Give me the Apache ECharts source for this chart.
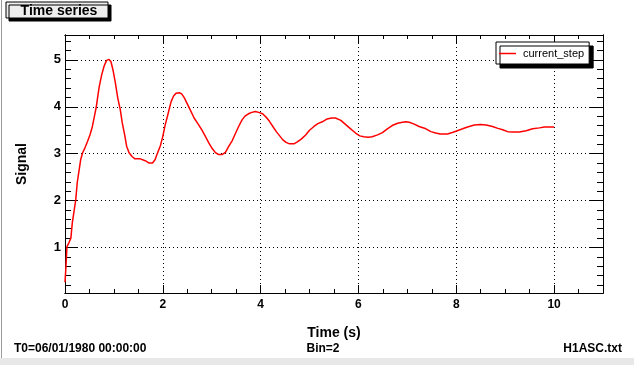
<!DOCTYPE html>
<html>
<head>
<meta charset="utf-8">
<script src="https://cdn.jsdelivr.net/npm/echarts@6/dist/echarts.min.js"></script>
<style>
  html, body { margin: 0; padding: 0; background: #fff; }
  #chart { width: 634px; height: 365px; }
</style>
</head>
<body>
<div id="chart"></div>
<script>
// values
const time = [
  0, 0.02, 0.04, 0.08, 0.12, 0.15, 0.18, 0.22, 0.25, 0.29,
  0.32, 0.36, 0.41, 0.46, 0.51, 0.56, 0.60, 0.64, 0.67, 0.70,
  0.75, 0.80, 0.85, 0.90, 0.94, 0.98, 1.03, 1.08, 1.13, 1.17,
  1.22, 1.26, 1.31, 1.37, 1.43, 1.54, 1.64, 1.72, 1.79, 1.84,
  1.89, 1.95, 2.00, 2.05, 2.10, 2.14, 2.17, 2.22, 2.27, 2.34,
  2.39, 2.44, 2.51, 2.58, 2.64, 2.73, 2.80, 2.87, 2.94, 3.01,
  3.07, 3.14, 3.21, 3.28, 3.35, 3.42, 3.48, 3.55, 3.62, 3.68,
  3.75, 3.82, 3.89, 3.96, 4.04, 4.11, 4.18, 4.25, 4.32, 4.39,
  4.45, 4.52, 4.59, 4.68, 4.75, 4.83, 4.92, 5.00, 5.09, 5.17,
  5.26, 5.36, 5.45, 5.53, 5.64, 5.74, 5.84, 5.94, 6.03, 6.11,
  6.20, 6.28, 6.39, 6.49, 6.59, 6.69, 6.80, 6.90, 6.97, 7.04,
  7.14, 7.24, 7.38, 7.48, 7.58, 7.67, 7.75, 7.82, 7.92, 8.02,
  8.13, 8.23, 8.37, 8.49, 8.61, 8.74, 8.85, 8.95, 9.05, 9.15,
  9.22, 9.29, 9.43, 9.56, 9.70, 9.80, 9.94, 10.0
];
const signal = [
  0.26, 0.6, 1.02, 1.1, 1.2, 1.53, 1.74, 2.02, 2.38, 2.66,
  2.87, 3.02, 3.13, 3.26, 3.4, 3.58, 3.79, 4.0, 4.22, 4.43,
  4.68, 4.87, 4.99, 5.01, 4.96, 4.79, 4.51, 4.18, 3.94, 3.66,
  3.4, 3.16, 3.02, 2.94, 2.89, 2.89, 2.85, 2.80, 2.80, 2.87,
  3.01, 3.17, 3.37, 3.62, 3.82, 3.99, 4.11, 4.23, 4.29, 4.30,
  4.27, 4.19, 4.04, 3.89, 3.76, 3.62, 3.50, 3.37, 3.23, 3.11,
  3.03, 2.98, 2.98, 3.03, 3.16, 3.28, 3.42, 3.58, 3.72, 3.80,
  3.85, 3.88, 3.90, 3.88, 3.85, 3.78, 3.69, 3.58, 3.47, 3.38,
  3.30, 3.24, 3.21, 3.21, 3.25, 3.31, 3.40, 3.50, 3.58, 3.64,
  3.68, 3.74, 3.76, 3.76, 3.71, 3.62, 3.53, 3.44, 3.38, 3.36,
  3.35, 3.36, 3.40, 3.45, 3.53, 3.60, 3.65, 3.67, 3.68, 3.67,
  3.63, 3.58, 3.53, 3.47, 3.44, 3.42, 3.42, 3.42, 3.45, 3.49,
  3.53, 3.57, 3.61, 3.62, 3.61, 3.58, 3.54, 3.51, 3.47, 3.46,
  3.46, 3.46, 3.49, 3.53, 3.55, 3.57, 3.57, 3.57
];
const xMajor = [0, 2, 4, 6, 8, 10];
const xMinor = [0, 0.5, 1, 1.5, 2, 2.5, 3, 3.5, 4, 4.5, 5, 5.5, 6, 6.5, 7, 7.5, 8, 8.5, 9, 9.5, 10, 10.5];
const yMajor = [1, 2, 3, 4, 5];
const yMinor = [0.2, 0.4, 0.6, 0.8, 1, 1.2, 1.4, 1.6, 1.8, 2, 2.2, 2.4, 2.6, 2.8, 3, 3.2, 3.4, 3.6, 3.8, 4, 4.2, 4.4, 4.6, 4.8, 5, 5.2, 5.4];

const font = 'Liberation Sans, Arial, sans-serif';
const X_MIN = 0, X_MAX = 11, Y_MIN = 0.03, Y_MAX = 5.53;

const chart = echarts.init(document.getElementById('chart'), null, {renderer: 'canvas'});

function xAx(pos, ticks, len, major) {
  return {
    type: 'value', position: pos, min: X_MIN, max: X_MAX,
    axisLine: {show: true, onZero: false, lineStyle: {color: '#000', width: 1}},
    axisTick: {show: true, inside: true, length: len, customValues: ticks, lineStyle: {color: '#000'}},
    axisLabel: {show: major && pos === 'bottom', customValues: xMajor, margin: 6,
      color: '#000', fontFamily: font, fontWeight: 'bold', fontSize: 12},
    splitLine: {show: major && pos === 'bottom', lineStyle: {color: '#000', type: [1, 3], width: 1}},
    name: major && pos === 'bottom' ? 'Time (s)' : '',
    nameLocation: 'middle', nameGap: 33,
    nameTextStyle: {color: '#000', fontFamily: font, fontWeight: 'bold', fontSize: 14}
  };
}
function yAx(pos, ticks, len, major) {
  return {
    type: 'value', position: pos, min: Y_MIN, max: Y_MAX,
    axisLine: {show: true, onZero: false, lineStyle: {color: '#000', width: 1}},
    axisTick: {show: true, inside: true, length: len, customValues: ticks, lineStyle: {color: '#000'}},
    axisLabel: {show: major && pos === 'left', customValues: yMajor, margin: 4,
      color: '#000', fontFamily: font, fontWeight: 'bold', fontSize: 13},
    splitLine: {show: major && pos === 'left', lineStyle: {color: '#000', type: [1, 3], width: 1}},
    name: major && pos === 'left' ? 'Signal' : '',
    nameLocation: 'middle', nameGap: 36, nameRotate: 90,
    nameTextStyle: {color: '#000', fontFamily: font, fontWeight: 'bold', fontSize: 14}
  };
}

chart.setOption({
  animation: false,
  backgroundColor: '#fff',
  grid: {left: 65, right: 31, top: 35, bottom: 72},
  xAxis: [
    xAx('bottom', xMajor, 8, true),
    xAx('bottom', xMinor, 4, false),
    xAx('top', xMajor, 8, true),
    xAx('top', xMinor, 4, false)
  ],
  yAxis: [
    yAx('left', yMajor, 13, true),
    yAx('left', yMinor, 6, false),
    yAx('right', yMajor, 13, true),
    yAx('right', yMinor, 6, false)
  ],
  legend: {
    left: 496, top: 42, orient: 'vertical',
    padding: [6, 5, 5, 3],
    icon: 'rect', itemWidth: 17, itemHeight: 1.5, itemGap: 4,
    backgroundColor: '#fff', borderColor: '#000', borderWidth: 1, borderRadius: 0,
    shadowColor: '#000', shadowBlur: 0, shadowOffsetX: 4, shadowOffsetY: 4,
    textStyle: {color: '#000', fontFamily: font, fontSize: 11, padding: [0, 0, 0, 2]}
  },
  graphic: [
    {type: 'rect', left: 1, top: 0, shape: {width: 1, height: 358}, style: {fill: '#9a9a9a'}},
    {type: 'rect', left: 0, top: 358, shape: {width: 634, height: 7}, style: {fill: '#e8e8e8'}},
    {type: 'rect', x: 6, y: 2, shape: {x: 0, y: 0, width: 102, height: 16},
      style: {fill: '#eeeeee', stroke: '#000', lineWidth: 1, shadowColor: '#000', shadowOffsetX: 3, shadowOffsetY: 3, shadowBlur: 0}},
    {type: 'text', x: 59, y: 11, style: {text: 'Time series', fill: '#000', font: 'bold 14px ' + font, align: 'center', verticalAlign: 'middle'}},
    {type: 'text', x: 14, y: 349, style: {text: 'T0=06/01/1980 00:00:00', fill: '#000', font: 'bold 12px ' + font, align: 'left', verticalAlign: 'middle'}},
    {type: 'text', x: 323, y: 349, style: {text: 'Bin=2', fill: '#000', font: 'bold 12px ' + font, align: 'center', verticalAlign: 'middle'}},
    {type: 'text', x: 622, y: 349, style: {text: 'H1ASC.txt', fill: '#000', font: 'bold 12px ' + font, align: 'right', verticalAlign: 'middle'}}
  ],
  series: [{
    name: 'current_step',
    type: 'line',
    xAxisIndex: 0, yAxisIndex: 0,
    showSymbol: false, symbol: 'none',
    lineStyle: {color: '#ff0000', width: 1.5},
    itemStyle: {color: '#ff0000'},
    data: time.map((t, i) => [t, signal[i]])
  }]
});
</script>
</body>
</html>
